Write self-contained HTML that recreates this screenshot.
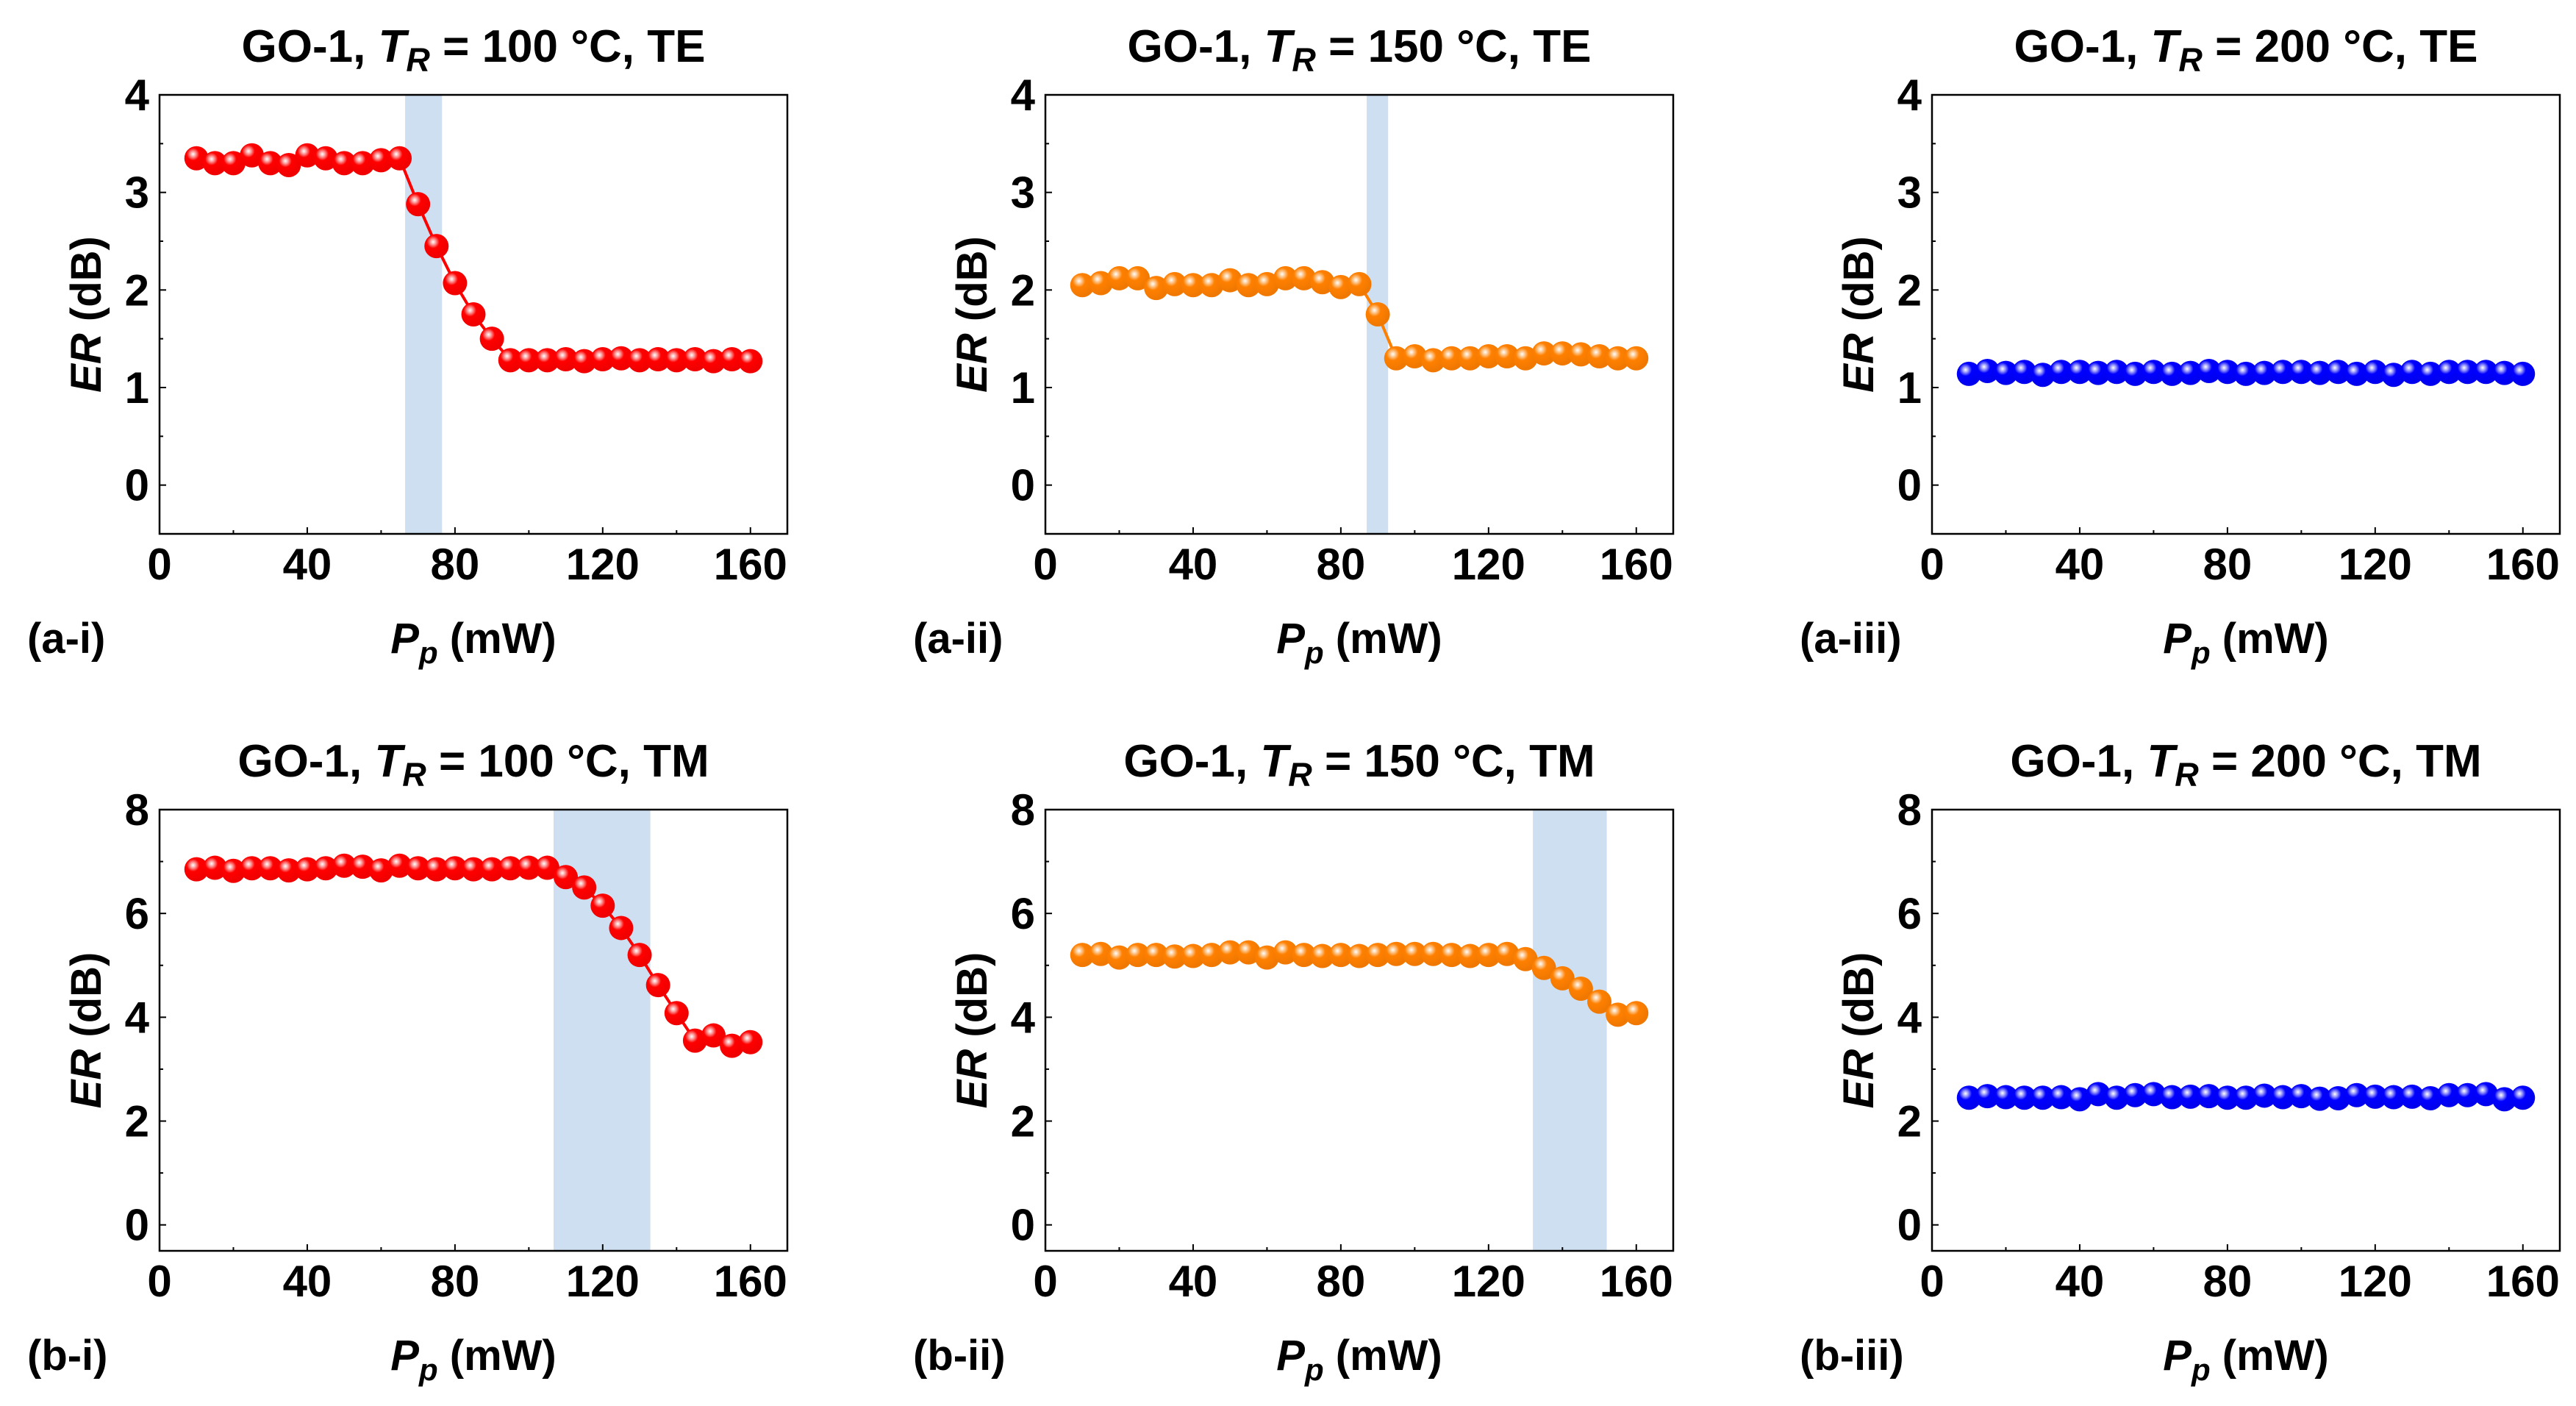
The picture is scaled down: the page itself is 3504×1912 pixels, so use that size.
<!DOCTYPE html>
<html><head><meta charset="utf-8"><style>
html,body{margin:0;padding:0;background:#fff;}
svg{display:block;font-family:"Liberation Sans",Arial,sans-serif;font-weight:bold;}
</style></head><body>
<svg id="fig" width="3504" height="1912" viewBox="0 0 3504 1912" xmlns="http://www.w3.org/2000/svg">
<defs>
<radialGradient id="gr" cx="0.36" cy="0.33" r="0.62"><stop offset="0" stop-color="#fff"/><stop offset="0.18" stop-color="#ff9a9a"/><stop offset="0.42" stop-color="#ff0000"/><stop offset="1" stop-color="#f00000"/></radialGradient>
<radialGradient id="go" cx="0.36" cy="0.33" r="0.62"><stop offset="0" stop-color="#fff"/><stop offset="0.18" stop-color="#ffc890"/><stop offset="0.42" stop-color="#ff8000"/><stop offset="1" stop-color="#f07800"/></radialGradient>
<radialGradient id="gb" cx="0.36" cy="0.33" r="0.62"><stop offset="0" stop-color="#fff"/><stop offset="0.18" stop-color="#9a9aff"/><stop offset="0.42" stop-color="#0000ff"/><stop offset="1" stop-color="#0000ee"/></radialGradient>
</defs>
</svg>
<script>
const powers = [10,15,20,25,30,35,40,45,50,55,60,65,70,75,80,85,90,95,100,105,110,115,120,125,130,135,140,145,150,155,160];
const erAi = [3.35,3.3,3.3,3.38,3.3,3.28,3.38,3.35,3.3,3.3,3.33,3.35,2.88,2.45,2.07,1.75,1.5,1.28,1.28,1.28,1.29,1.27,1.29,1.3,1.28,1.29,1.28,1.29,1.27,1.29,1.27];
const erAii = [2.05,2.07,2.12,2.12,2.02,2.06,2.05,2.05,2.1,2.05,2.06,2.12,2.12,2.08,2.03,2.06,1.75,1.3,1.32,1.28,1.3,1.3,1.32,1.32,1.3,1.35,1.35,1.34,1.32,1.3,1.3];
const erAiii = [1.14,1.17,1.15,1.16,1.13,1.16,1.16,1.15,1.16,1.14,1.16,1.14,1.15,1.17,1.16,1.14,1.15,1.16,1.16,1.15,1.16,1.14,1.16,1.13,1.16,1.14,1.16,1.16,1.16,1.15,1.14];
const erBi = [6.85,6.88,6.82,6.87,6.87,6.83,6.85,6.87,6.92,6.9,6.83,6.92,6.87,6.85,6.87,6.85,6.85,6.87,6.88,6.88,6.7,6.5,6.15,5.72,5.2,4.62,4.08,3.55,3.65,3.45,3.52];
const erBii = [5.2,5.22,5.15,5.2,5.2,5.17,5.18,5.2,5.25,5.25,5.15,5.25,5.2,5.18,5.2,5.18,5.2,5.22,5.22,5.22,5.2,5.18,5.2,5.22,5.12,4.95,4.75,4.55,4.3,4.05,4.08];
const erBiii = [2.45,2.48,2.46,2.45,2.45,2.46,2.42,2.52,2.45,2.5,2.52,2.46,2.47,2.48,2.45,2.45,2.49,2.46,2.48,2.43,2.44,2.5,2.47,2.46,2.47,2.44,2.5,2.5,2.52,2.42,2.45];
const shadeAi = [66.5, 76.5];
const shadeAii = [87, 92.8];
const shadeBi = [106.7, 132.9];
const shadeBii = [132, 152];
const xTicks = [0,40,80,120,160];
const yTicksA = [0,1,2,3,4];
const yTicksB = [0,2,4,6,8];

const NS = 'http://www.w3.org/2000/svg';
const svg = document.getElementById('fig');
function mk(tag, attrs, parent, text){
  const e = document.createElementNS(NS, tag);
  for (const k in attrs) e.setAttribute(k, attrs[k]);
  if (text !== undefined) e.textContent = text;
  (parent || svg).appendChild(e);
  return e;
}
const panels = [
  {id:'a-i', col:0, row:0, temp:'100', mode:'TE', data:erAi, shade:shadeAi, grad:'gr', color:'#ff0000'},
  {id:'a-ii', col:1, row:0, temp:'150', mode:'TE', data:erAii, shade:shadeAii, grad:'go', color:'#ff8000'},
  {id:'a-iii', col:2, row:0, temp:'200', mode:'TE', data:erAiii, shade:null, grad:'gb', color:'#0000ff'},
  {id:'b-i', col:0, row:1, temp:'100', mode:'TM', data:erBi, shade:shadeBi, grad:'gr', color:'#ff0000'},
  {id:'b-ii', col:1, row:1, temp:'150', mode:'TM', data:erBii, shade:shadeBii, grad:'go', color:'#ff8000'},
  {id:'b-iii', col:2, row:1, temp:'200', mode:'TM', data:erBiii, shade:null, grad:'gb', color:'#0000ff'}
];
const lefts = [217, 1422, 2628];
const W = 854;
const rows = [{top:129, bot:726, ymin:-0.5, ymax:4, ticks:yTicksA, minor:0.5},
              {top:1101, bot:1701, ymin:-0.5, ymax:8, ticks:yTicksB, minor:1}];
panels.forEach(p => {
  const L = lefts[p.col], R = L + W, rw = rows[p.row];
  const T = rw.top, B = rw.bot;
  const xs = v => L + (v - 0) / 170 * W;
  const ys = v => B - (v - rw.ymin) / (rw.ymax - rw.ymin) * (B - T);
  const g = mk('g', {});
  
  
  if (p.shade) {
    const s = mk('rect', {x: xs(p.shade[0]), y: T, width: xs(p.shade[1]) - xs(p.shade[0]), height: B - T, fill: '#cddff0'}, g);
    
    
  }
  xTicks.forEach(t => {
    mk('line', {x1: xs(t), x2: xs(t), y1: B, y2: B - 9, stroke: '#000', 'stroke-width': 2}, g);
    const tl = mk('text', {x: xs(t), y: B + 62, 'font-size': 60, 'text-anchor': 'middle'}, g, String(t));
    
    
    if (t < 160) mk('line', {x1: xs(t + 20), x2: xs(t + 20), y1: B, y2: B - 5, stroke: '#000', 'stroke-width': 2}, g);
  });
  rw.ticks.forEach(t => {
    mk('line', {x1: L, x2: L + 9, y1: ys(t), y2: ys(t), stroke: '#000', 'stroke-width': 2}, g);
    const tl = mk('text', {x: L - 14, y: ys(t) + 21, 'font-size': 60, 'text-anchor': 'end'}, g, String(t));
    
    
    if (t < rw.ymax) mk('line', {x1: L, x2: L + 5, y1: ys(t + rw.minor), y2: ys(t + rw.minor), stroke: '#000', 'stroke-width': 2}, g);
  });
  const pts = p.data.map((v, i) => xs(powers[i]) + ',' + ys(v)).join(' ');
  const ln = mk('polyline', {points: pts, fill: 'none', stroke: p.color, 'stroke-width': 4}, g);
  
  
  p.data.forEach((v, i) => {
    const c = mk('circle', {cx: xs(powers[i]), cy: ys(v), r: 16.5, fill: 'url(#' + p.grad + ')'}, g);
    
    
  });
  const fr = mk('rect', {x: L, y: T, width: W, height: B - T, fill: 'none', stroke: '#000', 'stroke-width': 2.5}, g);
  
  
  const cx = L + W / 2;
  const ti = mk('text', {x: cx, y: T - 45, 'font-size': 62, 'text-anchor': 'middle'}, g);
  
  
  mk('tspan', {}, ti, 'GO-1, ');
  mk('tspan', {'font-style': 'italic'}, ti, 'T');
  mk('tspan', {'font-style': 'italic', 'font-size': 45, dy: 13}, ti, 'R');
  mk('tspan', {dy: -13}, ti, ' = ' + p.temp + ' °C, ' + p.mode);
  const yl = mk('text', {x: 0, y: 0, 'font-size': 58, 'text-anchor': 'middle', transform: 'translate(' + (L - 80) + ',' + ((T + B) / 2) + ') rotate(-90)'}, g);
  
  
  mk('tspan', {'font-style': 'italic'}, yl, 'ER');
  mk('tspan', {}, yl, ' (dB)');
  const xl = mk('text', {x: cx, y: B + 162, 'font-size': 58, 'text-anchor': 'middle'}, g);
  
  
  mk('tspan', {'font-style': 'italic'}, xl, 'P');
  mk('tspan', {'font-style': 'italic', 'font-size': 42, dy: 14}, xl, 'p');
  mk('tspan', {dy: -14}, xl, ' (mW)');
  const pl = mk('text', {x: L - 180, y: B + 162, 'font-size': 58}, g, '(' + p.id + ')');
  
  
});
</script>
</body></html>
